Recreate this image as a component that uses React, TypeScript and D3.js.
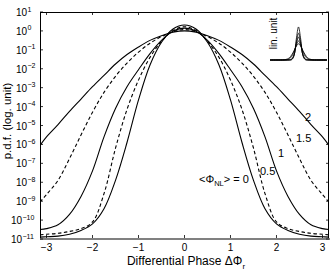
import React from "react";
import * as d3 from "d3";

// differential phase grid (rad)
const phase = [
  -Math.PI, -3, -2.75, -2.5, -2.25, -2, -1.75, -1.5, -1.25, -1, -0.75, -0.5, -0.25, 0,
  0.25, 0.5, 0.75, 1, 1.25, 1.5, 1.75, 2, 2.25, 2.5, 2.75, 3, Math.PI,
];

// log10 of the p.d.f.
const logPdf0 = [
  -10.9, -10.88, -10.85, -10.75, -10.55, -10.2, -9.4, -7.9, -5.9, -3.65, -1.8, -0.6, 0.1, 0.31,
  0.1, -0.6, -1.8, -3.65, -5.9, -7.9, -9.4, -10.2, -10.55, -10.75, -10.85, -10.88, -10.9,
];
const logPdf05 = [
  -10.78, -10.75, -10.7, -10.6, -10.45, -10.1, -8.6, -6.2, -4.15, -2.6, -1.4, -0.55, 0.02, 0.22,
  0.02, -0.55, -1.4, -2.6, -4.15, -6.2, -8.6, -10.1, -10.45, -10.6, -10.7, -10.75, -10.78,
];
const logPdf1 = [
  -10.5, -10.45, -10.25, -9.7, -8.75, -7.4, -5.6, -4.1, -2.95, -2.05, -1.2, -0.5, -0.02, 0.15,
  -0.02, -0.5, -1.2, -2.05, -2.95, -4.1, -5.6, -7.4, -8.75, -9.7, -10.25, -10.45, -10.5,
];
const logPdf15 = [
  -9.05, -8.65, -7.9, -6.75, -5.5, -4.3, -3.25, -2.4, -1.7, -1.12, -0.65, -0.3, -0.05, 0.07,
  -0.05, -0.3, -0.65, -1.12, -1.7, -2.4, -3.25, -4.3, -5.5, -6.75, -7.9, -8.65, -9.05,
];
const logPdf2 = [
  -6.05, -5.6, -4.95, -4.25, -3.6, -2.95, -2.35, -1.75, -1.25, -0.85, -0.5, -0.25, -0.07, 0.0,
  -0.07, -0.25, -0.5, -0.85, -1.25, -1.75, -2.35, -2.95, -3.6, -4.25, -4.95, -5.6, -6.05,
];

const series = [
  { name: "0", values: logPdf0, dashed: false },
  { name: "0.5", values: logPdf05, dashed: true },
  { name: "1", values: logPdf1, dashed: false },
  { name: "1.5", values: logPdf15, dashed: true },
  { name: "2", values: logPdf2, dashed: false },
];

const xTicks = [-3, -2, -1, 0, 1, 2, 3];
const yExponents = [1, 0, -1, -2, -3, -4, -5, -6, -7, -8, -9, -10, -11];

const FONT = "'Liberation Sans', Arial, Helvetica, sans-serif";

export default function App() {
  const left = 40, right = 329, top = 12, bottom = 239;

  const x = d3.scaleLinear().domain([-Math.PI, Math.PI]).range([left, right]);
  const y = d3.scaleLog().domain([1e-11, 10]).range([bottom, top]);

  const line = d3
    .line<number>()
    .x((_, i) => x(phase[i]))
    .y((d) => y(Math.pow(10, d)))
    .curve(d3.curveCatmullRom.alpha(0.5));

  // inset, linear units
  const xi = d3.scaleLinear().domain([-Math.PI, Math.PI]).range([270, 327]);
  const yi = d3.scaleLinear().domain([0, 2.1]).range([60, 26]);
  const insetLine = d3
    .line<number>()
    .x((_, i) => xi(phase[i]))
    .y((d) => yi(Math.pow(10, d)))
    .curve(d3.curveCatmullRom.alpha(0.5));

  return (
    <svg
      width={332}
      height={271}
      style={{ position: "absolute", left: 0, top: 0, background: "#fff" }}
      fontFamily={FONT}
    >
      <defs>
        <clipPath id="plotClip">
          <rect x={left} y={top} width={right - left} height={bottom - top} />
        </clipPath>
      </defs>
      <rect x={0} y={0} width={332} height={271} fill="#fff" />

      {/* curves */}
      <g clipPath="url(#plotClip)" fill="none" stroke="#000" strokeWidth={1.1}>
        {series.map((s) => (
          <path key={s.name} d={line(s.values) || ""} strokeDasharray={s.dashed ? "3.5,2.5" : undefined} />
        ))}
      </g>

      {/* frame */}
      <line x1={left} x2={right} y1={top + 0.5} y2={top + 0.5} stroke="#000" />
      <line x1={left + 0.5} x2={left + 0.5} y1={top} y2={bottom} stroke="#000" />
      <line x1={right - 0.5} x2={right - 0.5} y1={top} y2={bottom} stroke="#000" />
      <line x1={left} x2={right + 1} y1={bottom} y2={bottom} stroke="#808080" strokeWidth={2} />

      {/* x ticks */}
      {xTicks.map((t) => (
        <g key={"x" + t}>
          <line x1={x(t)} x2={x(t)} y1={bottom - 1} y2={bottom - 4} stroke="#000" strokeWidth={0.8} />
          <line x1={x(t)} x2={x(t)} y1={top} y2={top + 3} stroke="#000" strokeWidth={0.8} />
          <text x={x(t)} y={251} fontSize={10} textAnchor="middle">
            {t < 0 ? "\u2212" + Math.abs(t) : String(t)}
          </text>
        </g>
      ))}

      {/* y ticks */}
      {yExponents.map((e) => {
        const yy = y(Math.pow(10, e));
        const expText = e < 0 ? "\u2212" + Math.abs(e) : String(e);
        const baseEnd = expText.length >= 3 ? 22 : 27;
        return (
          <g key={"y" + e}>
            <line x1={left} x2={left + 3} y1={yy} y2={yy} stroke="#000" strokeWidth={0.8} />
            <line x1={right - 3} x2={right} y1={yy} y2={yy} stroke="#000" strokeWidth={0.8} />
            <text x={baseEnd} y={yy + 4} fontSize={10} textAnchor="end">10</text>
            <text x={baseEnd + 0.5} y={yy - 0.5} fontSize={7} textAnchor="start">{expText}</text>
          </g>
        );
      })}

      {/* curve labels */}
      <text x={308} y={121} fontSize={11} textAnchor="middle">2</text>
      <text x={296} y={142} fontSize={11}>1.5</text>
      <text x={281} y={157} fontSize={11} textAnchor="middle">1</text>
      <text x={260} y={175} fontSize={11}>0.5</text>
      <text x={199} y={182.5} fontSize={11}>
        {"<\u03A6"}
        <tspan fontSize={7.5} dy={3}>NL</tspan>
        <tspan dy={-3}>{"> = 0"}</tspan>
      </text>

      {/* inset */}
      <g fill="none" stroke="#000" strokeWidth={0.8}>
        {series.map((s) => (
          <path key={"i" + s.name} d={insetLine(s.values) || ""} />
        ))}
      </g>
      <text transform="translate(277,33.5) rotate(-90)" fontSize={10} textAnchor="middle">lin. unit</text>

      {/* axis titles */}
      <text x={186} y={264.5} fontSize={12} textAnchor="middle">
        {"Differential Phase \u0394\u03A6"}
        <tspan fontSize={8} dy={4}>r</tspan>
      </text>
      <text transform="translate(10.5,121) rotate(-90)" fontSize={11.5} textAnchor="middle">
        p.d.f. (log. unit)
      </text>
    </svg>
  );
}
